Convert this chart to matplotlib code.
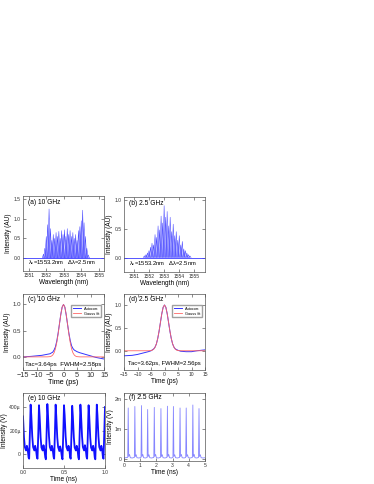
import numpy as np
import matplotlib
matplotlib.use("Agg")
import matplotlib.pyplot as plt

plt.rcParams['font.family'] = ['Liberation Sans', 'DejaVu Sans']
plt.rcParams['mathtext.fontset'] = 'dejavusans'
plt.rcParams['mathtext.default'] = 'regular'

# (a) 10 GHz optical spectrum, comb lines
a_lam = [1551.84, 1551.92, 1552.00, 1552.08, 1552.16, 1552.24, 1552.32, 1552.40,
         1552.48, 1552.56, 1552.64, 1552.72, 1552.80, 1552.88, 1552.96, 1553.04,
         1553.12, 1553.20, 1553.28, 1553.36, 1553.44, 1553.52, 1553.60, 1553.68,
         1553.76, 1553.84, 1553.92, 1554.00, 1554.08, 1554.16, 1554.24, 1554.32, 1554.40]
a_amp = [0.10, 0.25, 0.55, 0.85, 1.25, 0.75, 0.45, 0.60, 0.50, 0.65, 0.55, 0.68,
         0.50, 0.70, 0.60, 0.72, 0.55, 0.75, 0.60, 0.70, 0.55, 0.65, 0.50, 0.60,
         0.45, 0.70, 0.80, 0.95, 1.22, 0.90, 0.55, 0.25, 0.08]

# (b) 2.5 GHz optical spectrum
b_lam = [1551.7, 1551.8, 1551.9, 1552.0, 1552.1, 1552.2, 1552.3, 1552.4, 1552.5,
         1552.6, 1552.7, 1552.8, 1552.9, 1553.0, 1553.1, 1553.2, 1553.3, 1553.4,
         1553.5, 1553.6, 1553.7, 1553.8, 1553.9, 1554.0, 1554.1, 1554.2, 1554.3,
         1554.4, 1554.5, 1554.6, 1554.7]
b_amp = [0.03, 0.05, 0.08, 0.12, 0.18, 0.25, 0.22, 0.40, 0.35, 0.55, 0.48, 0.72,
         0.60, 0.90, 0.70, 0.80, 0.55, 0.70, 0.45, 0.58, 0.38, 0.45, 0.30, 0.38,
         0.22, 0.28, 0.15, 0.12, 0.08, 0.05, 0.03]

# (c), (d) autocorrelation traces and Gaussian fits
ac_t = [-15, -12, -10, -8, -6, -5, -4, -3.5, -3, -2.5, -2, -1.5, -1, -0.5, 0,
        0.5, 1, 1.5, 2, 2.5, 3, 3.5, 4, 5, 6, 8, 10, 12, 15]
c_ac = [0.0, 0.01, 0.02, 0.03, 0.05, 0.06, 0.09, 0.13, 0.19, 0.30, 0.45, 0.63,
        0.81, 0.95, 1.0, 0.95, 0.80, 0.62, 0.45, 0.31, 0.21, 0.16, 0.13, 0.10,
        0.08, 0.05, 0.02, -0.01, -0.04]
d_ac = [-0.11, -0.10, -0.08, -0.05, -0.02, 0.0, 0.04, 0.08, 0.15, 0.27, 0.43, 0.62,
        0.81, 0.95, 1.0, 0.95, 0.81, 0.62, 0.43, 0.27, 0.15, 0.08, 0.04, 0.01,
        -0.01, -0.02, -0.02, 0.0, 0.02]
fit_t = [-15, -6, -5, -4.5, -4, -3.5, -3, -2.5, -2, -1.5, -1, -0.5, 0,
         0.5, 1, 1.5, 2, 2.5, 3, 3.5, 4, 4.5, 5, 6, 15]
fit_v = [0, 0.0005, 0.005, 0.014, 0.035, 0.077, 0.152, 0.271, 0.433, 0.625, 0.811,
         0.949, 1.0, 0.949, 0.811, 0.625, 0.433, 0.271, 0.152, 0.077, 0.035, 0.014,
         0.005, 0.0005, 0]

# (e) 10 GHz detected pulse train, microvolts
e_t = [0.000, 0.012, 0.022, 0.037, 0.047, 0.057, 0.068, 0.075, 0.085, 0.093,
       0.101, 0.113, 0.123, 0.138, 0.148, 0.158, 0.170, 0.177, 0.187, 0.195,
       0.203, 0.215, 0.225, 0.240, 0.250, 0.260, 0.272, 0.279, 0.289, 0.297,
       0.305, 0.317, 0.327, 0.342, 0.352, 0.362, 0.373, 0.380, 0.390, 0.398,
       0.406, 0.418, 0.428, 0.443, 0.453, 0.463, 0.475, 0.482, 0.492, 0.500,
       0.508, 0.520, 0.530, 0.545, 0.555, 0.565, 0.575, 0.582, 0.592, 0.600,
       0.608, 0.620, 0.630, 0.645, 0.655, 0.665, 0.675, 0.682, 0.692, 0.700,
       0.708, 0.720, 0.730, 0.745, 0.755, 0.765, 0.775, 0.782, 0.792, 0.800,
       0.808, 0.820, 0.830, 0.845, 0.855, 0.865, 0.875, 0.882, 0.892, 0.900,
       0.908, 0.920, 0.930, 0.945, 0.955, 0.965, 0.975, 0.982, 0.992, 1.000]
e_v = [320, 140, 60, 30, 70, 40, -30, -40, 200, 420,
       330, 150, 60, 30, 70, 40, -30, -40, 190, 415,
       320, 140, 55, 30, 75, 40, -30, -45, 210, 425,
       330, 150, 60, 30, 70, 40, -25, -40, 200, 420,
       320, 140, 60, 25, 65, 35, -30, -45, 200, 415,
       330, 150, 60, 30, 70, 40, -30, -40, 190, 410,
       320, 140, 55, 30, 70, 40, -30, -45, 200, 420,
       330, 150, 60, 30, 75, 40, -25, -40, 200, 415,
       320, 140, 55, 30, 70, 40, -30, -45, 200, 420,
       330, 150, 60, 30, 70, 40, -30, -40, 200, 400]

# (f) 2.5 GHz detected pulse train, millivolts
f_t = [0.00, 0.10, 0.23, 0.26, 0.29, 0.34, 0.39, 0.51,
       0.64, 0.67, 0.70, 0.75, 0.80, 0.92,
       1.05, 1.08, 1.11, 1.16, 1.21, 1.33,
       1.43, 1.46, 1.49, 1.54, 1.59, 1.71,
       1.84, 1.87, 1.90, 1.95, 2.00, 2.12,
       2.25, 2.28, 2.31, 2.36, 2.41, 2.53,
       2.65, 2.68, 2.71, 2.76, 2.81, 2.93,
       3.02, 3.05, 3.08, 3.13, 3.18, 3.30,
       3.43, 3.46, 3.49, 3.54, 3.59, 3.71,
       3.81, 3.84, 3.87, 3.92, 3.97, 4.09,
       4.22, 4.25, 4.28, 4.33, 4.38, 4.50,
       4.60, 4.63, 4.66, 4.71, 4.76, 4.88, 5.00]
f_v = [0.03, 0.04, 0.05, 1.70, 0.08, 0.15, 0.04, 0.03,
       0.05, 1.75, 0.08, 0.14, 0.04, 0.03,
       0.05, 1.78, 0.08, 0.15, 0.04, 0.03,
       0.05, 1.65, 0.08, 0.14, 0.04, 0.03,
       0.05, 1.72, 0.08, 0.15, 0.04, 0.03,
       0.05, 1.68, 0.08, 0.14, 0.04, 0.03,
       0.05, 1.76, 0.08, 0.15, 0.04, 0.03,
       0.05, 1.75, 0.08, 0.14, 0.04, 0.03,
       0.05, 1.70, 0.08, 0.15, 0.04, 0.03,
       0.05, 1.70, 0.08, 0.14, 0.04, 0.03,
       0.05, 1.80, 0.08, 0.15, 0.04, 0.03,
       0.05, 1.68, 0.08, 0.14, 0.04, 0.03, 0.04]

fig = plt.figure(figsize=(3.74, 4.84), dpi=100)

W = 81 / 374
ax_a = fig.add_axes([23 / 374, 213 / 484, W, 75 / 484])
ax_b = fig.add_axes([124 / 374, 212 / 484, W, 75 / 484])
ax_c = fig.add_axes([23 / 374, 114 / 484, W, 76 / 484])
ax_d = fig.add_axes([124 / 374, 114 / 484, W, 76 / 484])
ax_e = fig.add_axes([23 / 374, 16 / 484, W + 1 / 374, 75 / 484])
ax_f = fig.add_axes([124 / 374, 23 / 484, W, 68 / 484])


def style(ax):
    ax.tick_params(direction='in', top=True, right=True, length=2, width=0.4,
                   labelsize=3.6, pad=1.5, colors='#333333')
    for s in ax.spines.values():
        s.set_linewidth(0.5)
        s.set_color('#555555')


def spikes(ax, lam, amp, half):
    for l, h in zip(lam, amp):
        ax.fill([l - half, l, l + half], [0, h, 0], color='#7070ff', alpha=0.3, lw=0)
        ax.plot([l - half, l, l + half], [0, h, 0], color='#1a1aff', lw=0.35, alpha=0.8)
    ax.axhline(0, color='#3a3aff', lw=0.6)


lab = dict(fontsize=4.7, labelpad=1)
lam_txt = r'$\lambda_c$=1553.2nm   $\Delta\lambda$=2.5nm'

# (a)
spikes(ax_a, a_lam, a_amp, 0.07)
ax_a.set_xlim(1550.67, 1555.3)
ax_a.set_ylim(-0.33, 1.58)
ax_a.set_xticks([1551, 1552, 1553, 1554, 1555])
ax_a.set_yticks([0.0, 0.5, 1.0, 1.5])
ax_a.set_xlabel('Wavelength (nm)', **lab)
ax_a.set_ylabel('Intensity (AU)', **lab)
ax_a.text(0.06, 0.96, '(a) 10 GHz', transform=ax_a.transAxes, fontsize=4.8, va='top')
ax_a.text(0.06, 0.05, lam_txt, transform=ax_a.transAxes, fontsize=4.2, va='bottom')

# (b)
spikes(ax_b, b_lam, b_amp, 0.08)
ax_b.set_xlim(1550.35, 1555.7)
ax_b.set_ylim(-0.25, 1.05)
ax_b.set_xticks([1551, 1552, 1553, 1554, 1555])
ax_b.set_yticks([0.0, 0.5, 1.0])
ax_b.set_xlabel('Wavelength (nm)', **lab)
ax_b.set_ylabel('Intensity (AU)', **lab)
ax_b.text(0.06, 0.96, '(b) 2.5 GHz', transform=ax_b.transAxes, fontsize=4.8, va='top')
ax_b.text(0.06, 0.05, lam_txt, transform=ax_b.transAxes, fontsize=4.2, va='bottom')

# (c)
ax_c.plot(ac_t, c_ac, color='#3333ff', lw=0.7, label='Autocorr.')
ax_c.plot(fit_t, fit_v, color='#ff6666', lw=0.6, label='Gauss fit')
ax_c.set_xlim(-15, 15)
ax_c.set_ylim(-0.25, 1.2)
ax_c.set_xticks([-15, -10, -5, 0, 5, 10, 15])
ax_c.set_yticks([0.0, 0.5, 1.0])
ax_c.set_xlabel('Time (ps)', fontsize=5.2, labelpad=0)
ax_c.set_ylabel('Intensity (AU)', **lab)
ax_c.text(0.06, 0.98, '(c) 10 GHz', transform=ax_c.transAxes, fontsize=4.8, va='top')
ax_c.text(0.5, 0.04, 'Tac=3.64ps  FWHM=2.58ps', transform=ax_c.transAxes,
          fontsize=4.4, va='bottom', ha='center')
ax_c.legend(loc='upper right', fontsize=2.8, frameon=True, handlelength=2.2,
            borderpad=0.4, labelspacing=0.3, fancybox=False, edgecolor='#888888',
            bbox_to_anchor=(0.99, 0.88))

# (d)
ax_d.plot(ac_t, d_ac, color='#3333ff', lw=0.7, label='Autocorr.')
ax_d.plot(fit_t, fit_v, color='#ff6666', lw=0.6, label='Gauss fit')
ax_d.set_xlim(-15, 15)
ax_d.set_ylim(-0.42, 1.24)
ax_d.set_xticks([-15, -10, -5, 0, 5, 10, 15])
ax_d.set_yticks([0.0, 0.5, 1.0])
ax_d.set_xlabel('Time (ps)', **lab)
ax_d.set_ylabel('Intensity (AU)', **lab)
ax_d.text(0.06, 0.98, '(d) 2.5 GHz', transform=ax_d.transAxes, fontsize=4.8, va='top')
ax_d.text(0.5, 0.05, 'Tac=3.62ps, FWHM=2.56ps', transform=ax_d.transAxes,
          fontsize=4.2, va='bottom', ha='center')
ax_d.legend(loc='upper right', fontsize=2.8, frameon=True, handlelength=2.2,
            borderpad=0.4, labelspacing=0.3, fancybox=False, edgecolor='#888888',
            bbox_to_anchor=(0.99, 0.88))

# (e)
ax_e.plot(e_t, e_v, color='#1010ff', lw=1.3)
ax_e.set_xlim(0, 1.0)
ax_e.set_ylim(-119, 519)
ax_e.set_xticks([0.0, 0.5, 1.0])
ax_e.set_xticklabels(['0.0', '0.5', '1.0'])
ax_e.set_yticks([0, 200, 400])
ax_e.set_yticklabels(['0', '200µ', '400µ'])
ax_e.set_xlabel('Time (ns)', **lab)
ax_e.set_ylabel('Intensity (V)', **lab)
ax_e.text(0.06, 0.98, '(e) 10 GHz', transform=ax_e.transAxes, fontsize=4.8, va='top')

# (f)
ax_f.plot(f_t, f_v, color='#8585ff', lw=0.6)
ax_f.set_xlim(0, 5)
ax_f.set_ylim(-0.07, 2.2)
ax_f.set_xticks([0, 1, 2, 3, 4, 5])
ax_f.set_yticks([0, 1, 2])
ax_f.set_yticklabels(['0', '1m', '2m'])
ax_f.set_xlabel('Time (ns)', **lab)
ax_f.set_ylabel('Intensity (V)', **lab)
ax_f.text(0.06, 0.98, '(f) 2.5 GHz', transform=ax_f.transAxes, fontsize=4.8, va='top')

for ax in (ax_a, ax_b, ax_c, ax_d, ax_e, ax_f):
    style(ax)
ax_c.tick_params(axis='x', labelsize=5.2)
ax_c.tick_params(axis='y', labelsize=4.4)

fig.savefig('out.png', dpi=100)
